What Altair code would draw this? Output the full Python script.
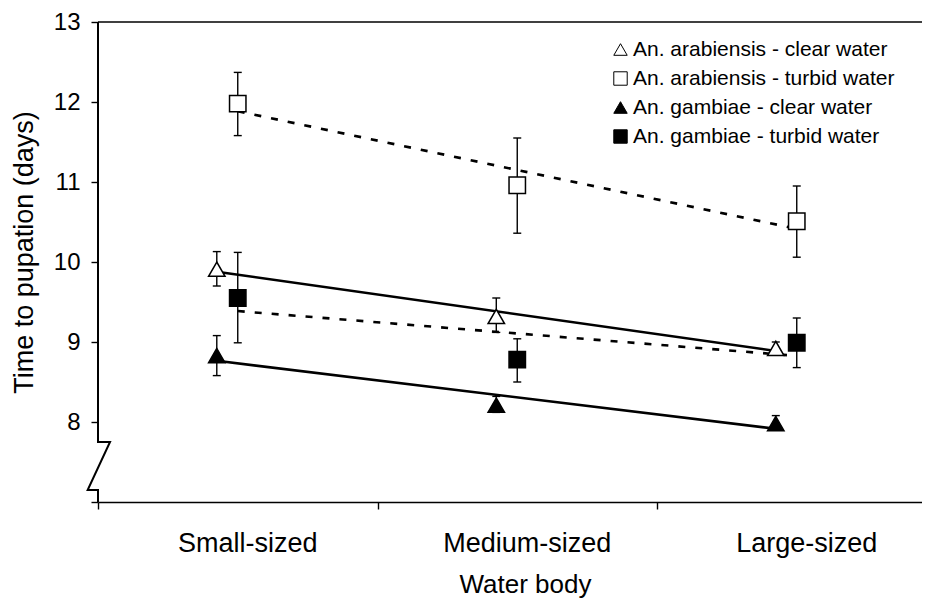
import altair as alt
import pandas as pd

# ---------------- data ----------------
categories = ["Small-sized", "Medium-sized", "Large-sized"]
series_names = [
    "An. arabiensis - clear water",
    "An. arabiensis - turbid water",
    "An. gambiae - clear water",
    "An. gambiae - turbid water",
]
water_type = ["clear", "turbid", "clear", "turbid"]

ara_clear = [9.91, 9.32, 8.92]
ara_clear_lo = [9.70, 9.12, 8.84]
ara_clear_hi = [10.13, 9.55, 9.00]

ara_turbid = [11.98, 10.96, 10.51]
ara_turbid_lo = [11.58, 10.36, 10.06]
ara_turbid_hi = [12.37, 11.55, 10.95]

gam_clear = [8.83, 8.21, 7.98]
gam_clear_lo = [8.58, 8.12, 7.90]
gam_clear_hi = [9.08, 8.32, 8.08]

gam_turbid = [9.55, 8.78, 8.99]
gam_turbid_lo = [8.99, 8.50, 8.68]
gam_turbid_hi = [10.12, 9.04, 9.30]

means = [ara_clear, ara_turbid, gam_clear, gam_turbid]
lows = [ara_clear_lo, ara_turbid_lo, gam_clear_lo, gam_turbid_lo]
highs = [ara_clear_hi, ara_turbid_hi, gam_clear_hi, gam_turbid_hi]

y_ticks = [7, 8, 9, 10, 11, 12, 13]

# ---------------- layout constants ----------------
FONT = "Liberation Sans"
W, H = 824, 480
X_MIN = -0.5
X_MAX = X_MIN + W / 279.5
CLEAR_OFFSET = -0.075  # triangles sit slightly left of squares
shape_range = ["triangle-up", "square", "triangle-up", "square"]
fill_range = ["white", "white", "black", "black"]
stroke_range = ["black", "black", "black", "black"]

rows = []
for s, name in enumerate(series_names):
    for i, cat in enumerate(categories):
        off = CLEAR_OFFSET if water_type[s] == "clear" else 0.0
        rows.append({
            "series": name,
            "water": water_type[s],
            "category": cat,
            "x": i + off,
            "mean": means[s][i],
            "lo": lows[s][i],
            "hi": highs[s][i],
        })
df = pd.DataFrame(rows)
cat_df = pd.DataFrame({"category": categories, "x": list(range(len(categories)))})

xscale = alt.Scale(domain=[X_MIN, X_MAX], nice=False, zero=False)
yscale = alt.Scale(domain=[7, 13], nice=False, zero=False)

x_axis = alt.Axis(
    values=[-0.5, 0.5, 1.5], labels=False, grid=False,
    tickSize=7, tickColor="black", tickWidth=1.4,
    domainColor="black", domainWidth=1.6,
    title="Water body", titleFont=FONT, titleFontSize=26, titleFontWeight="normal",
    titleColor="black", titleX=427, titleY=90, titleBaseline="alphabetic", titleAlign="center",
)
y_axis = alt.Axis(
    values=y_ticks, labelExpr="datum.value == 7 ? '' : datum.label",
    grid=False, domain=False,
    tickSize=7, tickColor="black", tickWidth=1.4,
    labelFont=FONT, labelFontSize=24, labelColor="black", labelPadding=11,
    title="Time to pupation (days)", titleFont=FONT, titleFontSize=27,
    titleFontWeight="normal", titleColor="black",
    titleX=-74, titleY=230, titleBaseline="middle", titleAlign="center",
)


def X(field):
    return alt.X(field, scale=xscale, axis=x_axis)


def Y(field):
    return alt.Y(field, scale=yscale, axis=y_axis)


base = alt.Chart(df)

# top border
top_rule = alt.Chart(pd.DataFrame({"y": [13]})).mark_rule(color="black", strokeWidth=1.6).encode(
    y=Y("y:Q")
)

# y axis line with break
brk = pd.DataFrame({
    "x": [-0.5, -0.5, -0.457, -0.537, -0.5, -0.5],
    "y": [13, 7.75, 7.75, 7.15, 7.15, 7],
    "o": [0, 1, 2, 3, 4, 5],
})
axis_line = alt.Chart(brk).mark_line(color="black", strokeWidth=2).encode(
    x=X("x:Q"), y=Y("y:Q"), order="o:Q",
)

err = base.mark_rule(color="black", strokeWidth=1.4).encode(
    x=X("x:Q"), y=Y("lo:Q"), y2="hi:Q",
)
caps = base.transform_fold(["lo", "hi"], as_=["k", "v"]).mark_tick(
    orient="horizontal", size=8, thickness=1.4, color="black", opacity=1
).encode(x=X("x:Q"), y=Y("v:Q"))

solid = base.transform_filter("datum.water == 'clear'").transform_regression(
    "x", "mean", groupby=["series"]
).mark_line(color="black", strokeWidth=2.6).encode(
    x=X("x:Q"), y=Y("mean:Q"), detail="series:N",
)
dashed = base.transform_filter("datum.water == 'turbid'").transform_regression(
    "x", "mean", groupby=["series"]
).mark_line(color="black", strokeWidth=2.6, strokeDash=[7, 10]).encode(
    x=X("x:Q"), y=Y("mean:Q"), detail="series:N",
)

legend = alt.Legend(
    title=None, orient="none", legendX=512, legendY=17,
    labelFont=FONT, labelFontSize=21, labelColor="black", labelOffset=2, labelLimit=0,
    symbolSize=180, symbolStrokeWidth=1,
    rowPadding=7, padding=0,
)
points = base.mark_point(filled=True, size=270, strokeWidth=1.5, opacity=1).encode(
    x=X("x:Q"), y=Y("mean:Q"),
    shape=alt.Shape("series:N", scale=alt.Scale(domain=series_names, range=shape_range), legend=legend),
    fill=alt.Fill("series:N", scale=alt.Scale(domain=series_names, range=fill_range), legend=legend),
    stroke=alt.Stroke("series:N", scale=alt.Scale(domain=series_names, range=stroke_range), legend=legend),
)

cat_labels = alt.Chart(cat_df).mark_text(
    font=FONT, fontSize=27, color="black", baseline="alphabetic", align="center", dx=10
).encode(
    x=X("x:Q"),
    y=alt.value(530),
    text="category:N",
)

chart = alt.layer(
    top_rule, axis_line, err, caps, solid, dashed, points, cat_labels
).properties(
    width=W, height=H,
    autosize=alt.AutoSizeParams(type="none"),
    padding={"left": 90, "top": 14, "right": 0, "bottom": 98},
).configure_view(stroke=None)

chart.save("out.html", embed_options={"renderer": "svg", "actions": False})
